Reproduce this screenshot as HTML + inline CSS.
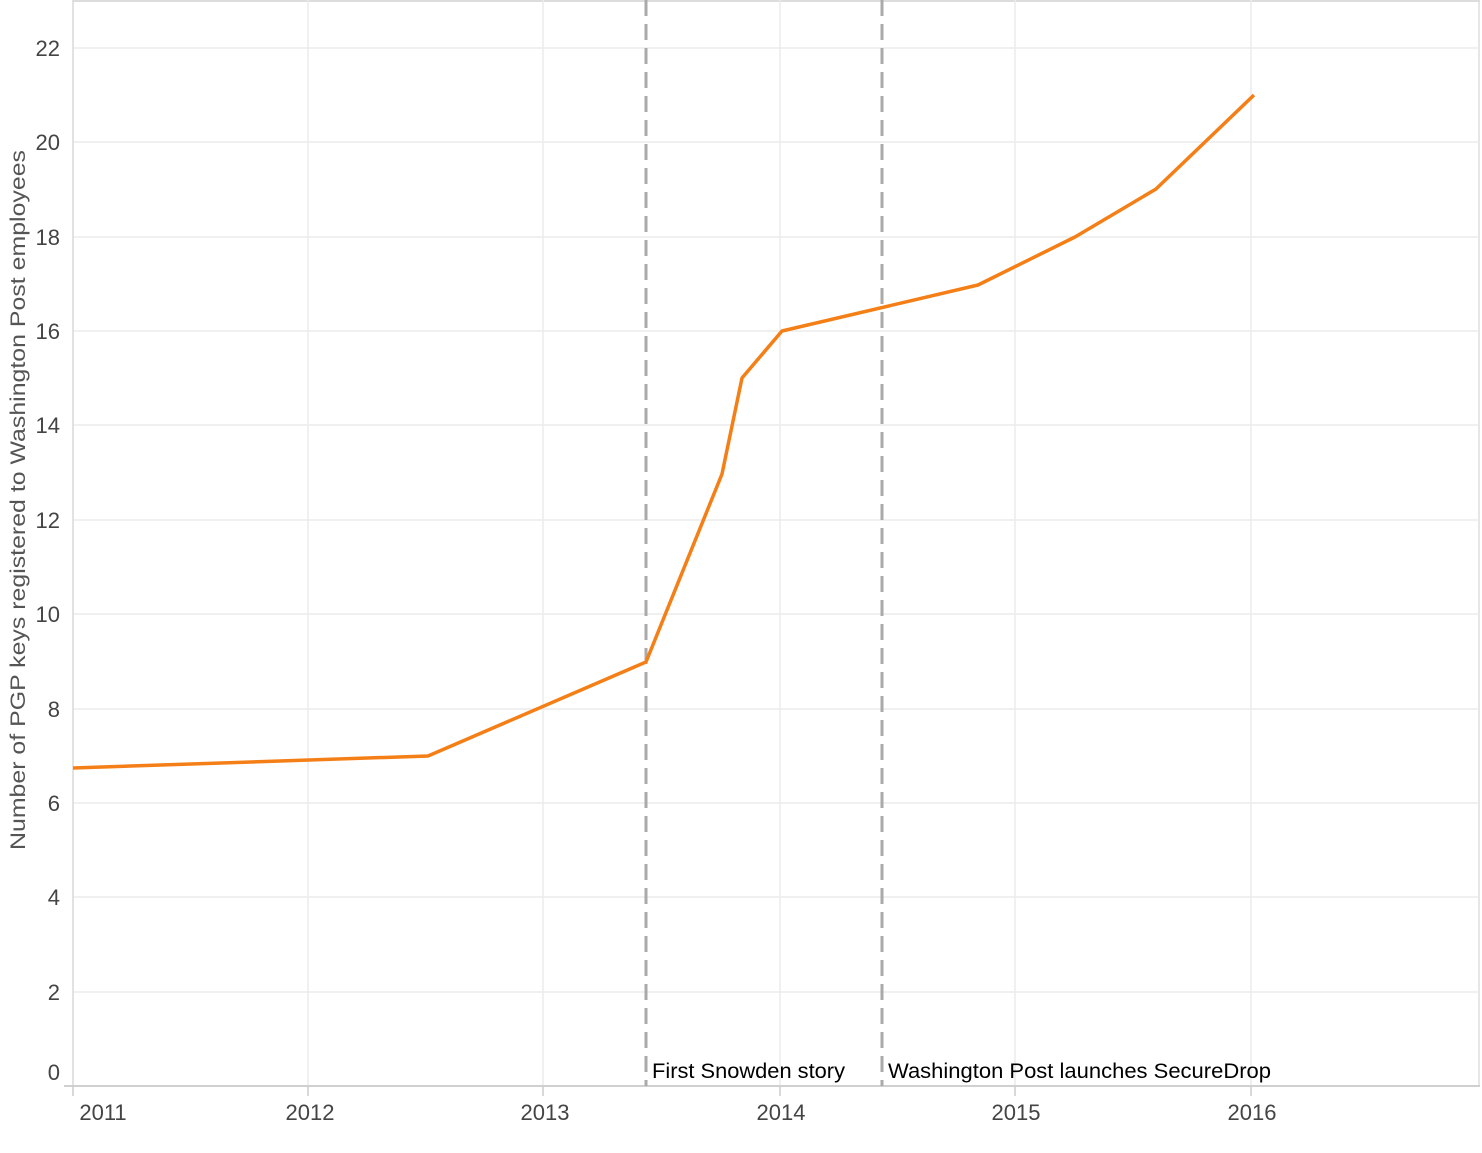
<!DOCTYPE html>
<html><head><style>body{margin:0;background:#fff}</style></head><body>
<svg width="1482" height="1148" xmlns="http://www.w3.org/2000/svg" font-family="Liberation Sans, sans-serif">
<rect width="1482" height="1148" fill="#fff"/>
<line x1="73" y1="1" x2="1480" y2="1" stroke="#ddd" stroke-width="2"/>
<line x1="1479" y1="0" x2="1479" y2="1086" stroke="#ddd" stroke-width="1.5"/>
<g stroke="#ececec" stroke-width="1.5">
<line x1="73" y1="48" x2="1479" y2="48"/><line x1="73" y1="142" x2="1479" y2="142"/>
<line x1="73" y1="237" x2="1479" y2="237"/><line x1="73" y1="331" x2="1479" y2="331"/>
<line x1="73" y1="425" x2="1479" y2="425"/><line x1="73" y1="520" x2="1479" y2="520"/>
<line x1="73" y1="614" x2="1479" y2="614"/><line x1="73" y1="709" x2="1479" y2="709"/>
<line x1="73" y1="803" x2="1479" y2="803"/><line x1="73" y1="897" x2="1479" y2="897"/>
<line x1="73" y1="992" x2="1479" y2="992"/>
<line x1="308" y1="0" x2="308" y2="1086"/><line x1="543" y1="0" x2="543" y2="1086"/>
<line x1="780" y1="0" x2="780" y2="1086"/><line x1="1015" y1="0" x2="1015" y2="1086"/>
<line x1="1251" y1="0" x2="1251" y2="1086"/>
</g>
<line x1="73" y1="0" x2="73" y2="1086" stroke="#d8d8d8" stroke-width="1.5"/>
<line x1="64" y1="1086" x2="1480" y2="1086" stroke="#d0d0d0" stroke-width="2"/>
<g stroke="#ccc" stroke-width="1.5">
<line x1="73" y1="1086" x2="73" y2="1096"/><line x1="308" y1="1086" x2="308" y2="1096"/>
<line x1="543" y1="1086" x2="543" y2="1096"/><line x1="780" y1="1086" x2="780" y2="1096"/>
<line x1="1015" y1="1086" x2="1015" y2="1096"/><line x1="1251" y1="1086" x2="1251" y2="1096"/>
</g>
<g stroke="#aaa" stroke-width="3" stroke-dasharray="16 8">
<line x1="646" y1="0" x2="646" y2="1086"/><line x1="882" y1="0" x2="882" y2="1086"/>
</g>
<polyline fill="none" stroke="#f57f17" stroke-width="3.5" stroke-linejoin="round" points="73,768 428,756 646,662 722,474 742,378 782,331 978,285 1075,237 1156,189 1254,95"/>
<g fill="#444" font-size="22" text-anchor="end">
<text x="60" y="56">22</text><text x="60" y="150">20</text><text x="60" y="245">18</text>
<text x="60" y="339">16</text><text x="60" y="433">14</text><text x="60" y="528">12</text>
<text x="60" y="622">10</text><text x="60" y="717">8</text><text x="60" y="811">6</text>
<text x="60" y="905">4</text><text x="60" y="1000">2</text><text x="60" y="1080">0</text>
</g>
<g fill="#444" font-size="22" text-anchor="middle">
<text x="103" y="1120">2011</text><text x="310" y="1120">2012</text><text x="545" y="1120">2013</text>
<text x="781" y="1120">2014</text><text x="1016" y="1120">2015</text><text x="1252" y="1120">2016</text>
</g>
<text transform="translate(25,500) rotate(-90)" text-anchor="middle" font-size="21" fill="#555" textLength="700" lengthAdjust="spacingAndGlyphs">Number of PGP keys registered to Washington Post employees</text>
<text x="652" y="1078" font-size="21" fill="#000" textLength="193" lengthAdjust="spacingAndGlyphs">First Snowden story</text>
<text x="888" y="1078" font-size="21" fill="#000" textLength="383" lengthAdjust="spacingAndGlyphs">Washington Post launches SecureDrop</text>
</svg>
</body></html>
